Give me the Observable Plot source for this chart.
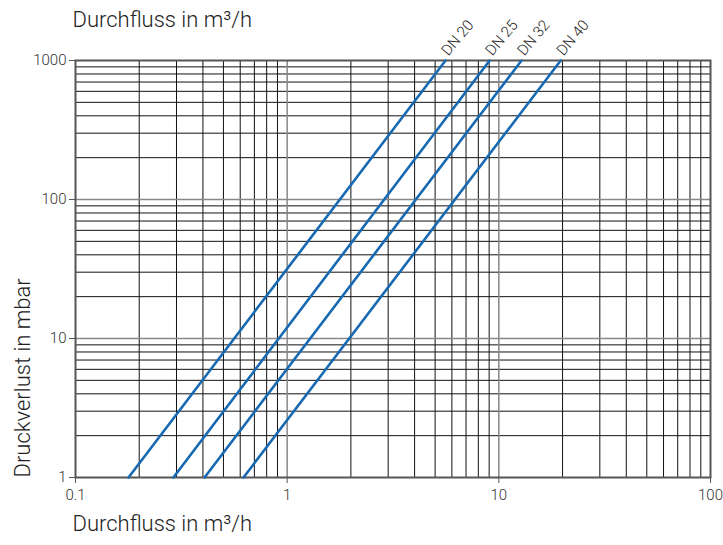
<!DOCTYPE html>
<html>
<head>
<meta charset="utf-8">
<script src="https://cdn.jsdelivr.net/npm/d3@7"></script>
<script src="https://cdn.jsdelivr.net/npm/@observablehq/plot@0.6"></script>
<style>
  html, body { margin: 0; padding: 0; background: #fff; }
  #chart svg { display: block; }
</style>
</head>
<body>
<div id="chart"></div>
<script>
// Data: flow rate (m³/h) at 1 mbar and at 1000 mbar for each nominal size
const series = ["DN 20", "DN 25", "DN 32", "DN 40"];
const pressures = [1, 1000];
const flowDN20 = [0.178, 5.6];
const flowDN25 = [0.29, 9.05];
const flowDN32 = [0.407, 12.8];
const flowDN40 = [0.622, 19.6];
const xTicks = [0.1, 1, 10, 100];
const yTicks = [1, 10, 100, 1000];
const xTitle = "Durchfluss in m³/h";
const yTitle = "Druckverlust in mbar";

const flows = [flowDN20, flowDN25, flowDN32, flowDN40];
const data = series.flatMap((s, i) => pressures.map((p, j) => ({series: s, q: flows[i][j], p})));
const tops = series.map((s, i) => ({series: s, q: flows[i][1], p: pressures[1]}));

const minor = ticks => ticks.slice(0, -1).flatMap(t => [2,3,4,5,6,7,8,9].map(k => t * k));
const xMinor = minor(xTicks);
const yMinor = minor(yTicks);
const xMid = xTicks.slice(1, -1);
const yMid = yTicks.slice(1, -1);

const font = "'Roboto', 'Liberation Sans', sans-serif";
const fmt = d => String(d);

const chart = Plot.plot({
  width: 723,
  height: 545,
  marginLeft: 75,
  marginRight: 13,
  marginTop: 60,
  marginBottom: 68,
  style: {fontFamily: font, background: "#fff", color: "#333", fontWeight: 300},
  x: {type: "log", domain: [0.1, 100]},
  y: {type: "log", domain: [1, 1000]},
  marks: [
    Plot.ruleX(xMinor, {stroke: "#111", strokeWidth: 1}),
    Plot.ruleY(yMinor, {stroke: "#111", strokeWidth: 1}),
    Plot.ruleX(xMid, {stroke: "#888", strokeWidth: 1.5}),
    Plot.ruleY(yMid, {stroke: "#888", strokeWidth: 1.5}),
    Plot.frame({stroke: "#555", strokeWidth: 2}),
    Plot.axisX({ticks: xTicks, tickFormat: fmt, tickSize: 6, tickPadding: 6, fontSize: 15, fontWeight: 300, label: null, stroke: "#555", fill: "#333"}),
    Plot.axisY({ticks: yTicks, tickFormat: fmt, tickSize: 6, tickPadding: 3, fontSize: 15, fontWeight: 300, label: null, stroke: "#555", fill: "#333"}),
    Plot.line(data, {x: "q", y: "p", z: "series", stroke: "#1769b2", strokeWidth: 2.6}),
    Plot.text(tops, {x: "q", y: "p", text: "series", rotate: -50, textAnchor: "start", dx: -1, dy: -7, fontSize: 15, fontWeight: 300, fill: "#222", letterSpacing: -0.5}),
    Plot.text([xTitle], {frameAnchor: "top-left", dx: -3, dy: -49, textAnchor: "start", fontSize: 22, fontWeight: 300, fill: "#222", letterSpacing: -0.8}),
    Plot.text([xTitle], {frameAnchor: "bottom-left", dx: -3, dy: 53, textAnchor: "start", fontSize: 22, fontWeight: 300, fill: "#222", letterSpacing: -0.8}),
    Plot.text([yTitle], {frameAnchor: "bottom-left", dx: -46, dy: 0, rotate: -90, textAnchor: "start", fontSize: 22, fontWeight: 300, fill: "#222", letterSpacing: -0.8})
  ]
});
document.getElementById("chart").appendChild(chart);
</script>
</body>
</html>
